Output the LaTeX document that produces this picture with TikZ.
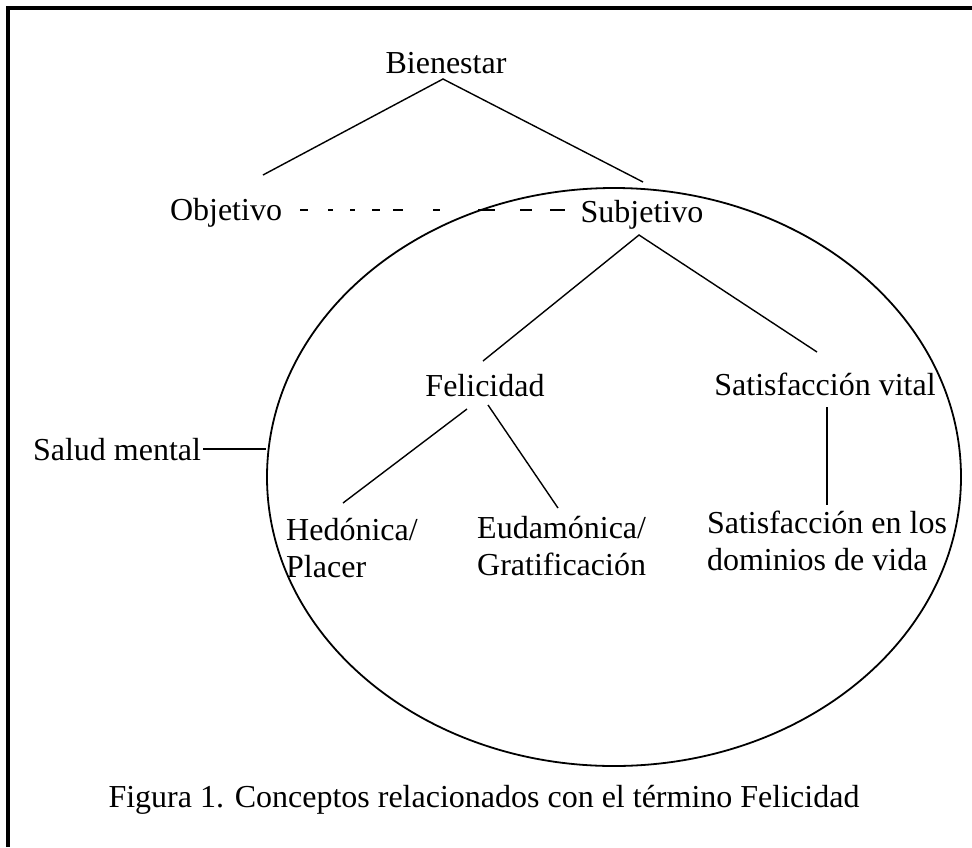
\documentclass[tikz,border=0pt]{standalone}
\usepackage{fontspec}
\setmainfont{Liberation Serif}
\usetikzlibrary{shapes.geometric,calc}
\begin{document}
\begin{tikzpicture}[x=1pt,y=-1pt,
  every node/.style={font=\fontsize{32}{37}\selectfont, inner sep=2pt},
  lbl/.style={anchor=base},
  two/.style={align=left, inner sep=0pt},
  conn/.style={line width=1.4pt},
  frame/.style={line width=4pt},
  oval/.style={draw, ellipse, line width=1.8pt, inner sep=0pt}]
\useasboundingbox (0,0) rectangle (972,847);
\draw[frame] (8,847) -- (8,8) -- (972,8);

\node[oval, minimum width=694pt, minimum height=578pt] (ov) at (614,477) {};

\node[lbl] (bien) at (446,73) {Bienestar};
\node[lbl] (obj) at (226,220) {Objetivo};
\node[lbl] (subj) at (642,222) {Subjetivo};
\node[lbl] (fel) at (485,396) {Felicidad};
\node[lbl] (sat) at (825,395) {Satisfacción vital};
\node[lbl] (salud) at (117,460) {Salud mental};
\node[two, anchor=north west] (hed) at (286,518) {Hedónica/\\Placer};
\node[two, anchor=north west] (eud) at (477,516) {Eudamónica/\\Gratificación};
\node[two, anchor=north] (dom) at (827,511) {Satisfacción en los\\dominios de vida};
\node[lbl] (cap) at (484,807) {Figura 1. Conceptos relacionados con el término Felicidad};

\draw[conn] ($(obj.base)+(37,-45)$) -- ($(bien.base)+(-3,6)$) -- ($(subj.base)+(1,-40)$);
\draw[conn, dash pattern=on 8pt off 20pt on 5pt off 17pt on 5pt off 17pt on 8pt off 13pt on 10pt off 30pt on 7pt off 38pt on 17pt off 25pt on 12pt off 18pt on 15pt off 50pt]
  ($(obj.base)+(74,-10)$) -- ($(subj.base)+(-77,-12)$);
\draw[conn] ($(fel.base)+(-2,-35)$) -- ($(subj.base)+(-3,13)$) -- ($(sat.base)+(-8,-43)$);
\draw[conn] ($(fel.base)+(-18,13)$) -- ($(hed.north west)+(57,-15)$);
\draw[conn] ($(fel.base)+(3,9)$) -- ($(eud.north west)+(81,-8)$);
\draw[conn] ($(sat.base)+(2,12)$) -- ($(dom.north)+(0,-6)$);
\draw[conn] (salud.east) -- (salud.east -| ov.west);
\end{tikzpicture}
\end{document}
